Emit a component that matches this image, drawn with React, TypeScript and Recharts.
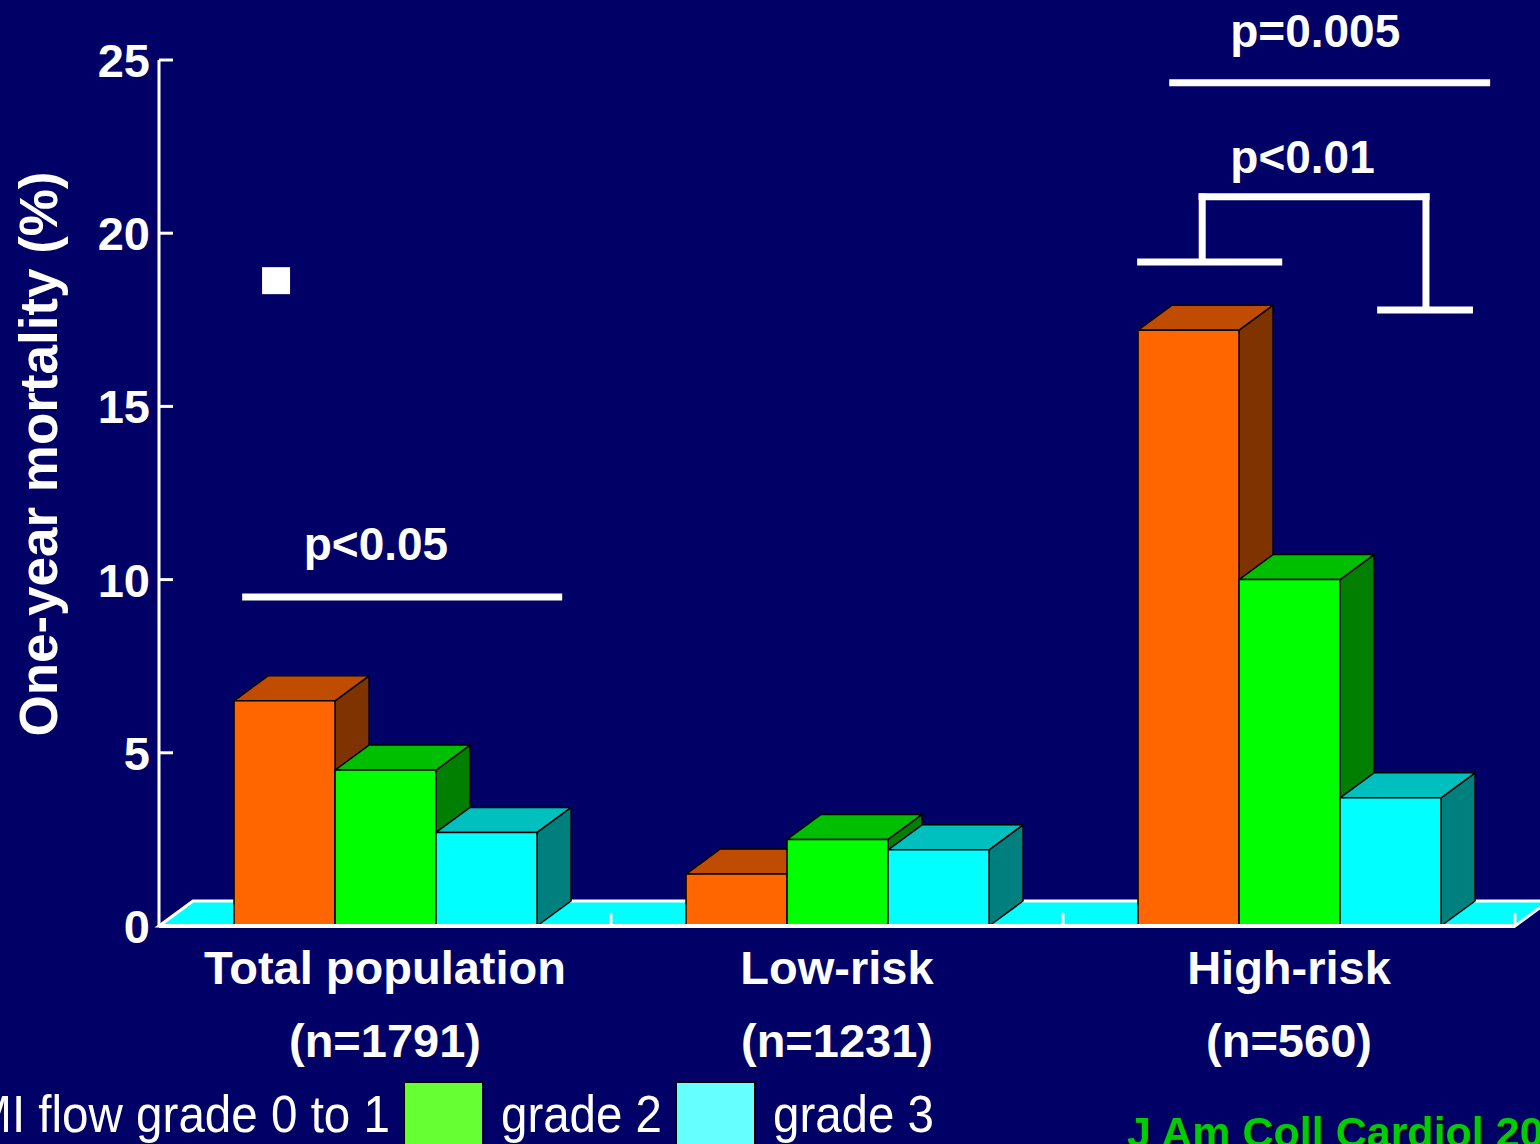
import React from 'react';
import {
  BarChart,
  Bar,
  XAxis,
  YAxis,
  ReferenceLine,
  ReferenceArea,
  ReferenceDot,
  Legend,
} from 'recharts';

// one-year mortality (%) by TIMI flow grade
const groups = ['Total population', 'Low-risk', 'High-risk'];
const groupSizes = ['(n=1791)', '(n=1231)', '(n=560)'];
const grade01 = [6.5, 1.5, 17.2];
const grade2 = [4.5, 2.5, 10.0];
const grade3 = [2.7, 2.2, 3.7];
const seriesNames = ['TIMI flow grade 0 to 1', 'grade 2', 'grade 3'];
const yTicks = [0, 5, 10, 15, 20, 25];

// significance marks: x in group units (0..3), y in %
const pLabels = [
  { text: 'p<0.05', x: 0.48, y: 10.57 },
  { text: 'p<0.01', x: 2.53, y: 21.74 },
  { text: 'p=0.005', x: 2.558, y: 25.38 },
];
const pSegments = [
  [0.184, 9.5, 0.892, 9.5],
  [2.235, 24.34, 2.945, 24.34],
  [2.164, 19.17, 2.485, 19.17],
  [2.308, 19.17, 2.308, 21.15],
  [2.3, 21.05, 2.811, 21.05],
  [2.803, 21.15, 2.803, 17.78],
  [2.695, 17.78, 2.907, 17.78],
];
const groupEdges = [1, 2, 3];
const marker = { x: 0.259, y: 18.63 };

const rows = groups.map((g, i) => ({
  group: g,
  mid: i + 0.5,
  g01: grade01[i],
  g2: grade2[i],
  g3: grade3[i],
}));

const NAVY = '#000066';
const FONT = '"Liberation Sans", Arial, Helvetica, sans-serif';
const DX = 34;
const DY = 25;

const palettes = [
  { front: '#ff6600', top: '#bf4c00', side: '#7f3300' },
  { front: '#00ff00', top: '#00bf00', side: '#007f00' },
  { front: '#00ffff', top: '#00bfbf', side: '#007f7f' },
];
const legendSwatches = ['#ff6600', '#66ff33', '#66ffff'];
const legendTextWidths = [460, 161, 161];

const makeBox = (pal: { front: string; top: string; side: string }) => (p: any) => {
  const { x, y, width: w, height: h } = p;
  if (x == null || h == null) return <g />;
  return (
    <g stroke="#000" strokeWidth={1.5} strokeLinejoin="round">
      <polygon
        points={`${x + w},${y} ${x + w + DX},${y - DY} ${x + w + DX},${y + h - DY} ${x + w},${y + h}`}
        fill={pal.side}
      />
      <polygon
        points={`${x},${y} ${x + DX},${y - DY} ${x + w + DX},${y - DY} ${x + w},${y}`}
        fill={pal.top}
      />
      <rect x={x} y={y} width={w} height={h} fill={pal.front} />
    </g>
  );
};

const Floor = (p: any) => {
  const { x, y, width: w, height: h } = p;
  const base = y + (h || 0);
  const pts = `${x},${base} ${x + DX},${base - DY} ${x + w + DX},${base - DY} ${x + w},${base}`;
  return <polygon points={pts} fill="#00ffff" stroke="#fff" strokeWidth={3} />;
};

const YTick = (p: any) => (
  <g>
    <line x1={p.x} x2={p.x + 14} y1={p.y} y2={p.y} stroke="#fff" strokeWidth={3} />
    <text
      x={p.x - 9}
      y={p.y}
      dy={17}
      textAnchor="end"
      fill="#fff"
      fontFamily={FONT}
      fontWeight="bold"
      fontSize={47}
    >
      {p.payload.value}
    </text>
  </g>
);

const GroupTick = (p: any) => (
  <g fill="#fff" fontFamily={FONT} fontWeight="bold" fontSize={47}>
    <text x={p.x} y={p.y + 58} textAnchor="middle">
      {p.payload.value}
    </text>
    <text x={p.x} y={p.y + 131} textAnchor="middle">
      {groupSizes[p.index]}
    </text>
  </g>
);

const YLabel = (p: any) => {
  const vb = p.viewBox;
  const cx = vb.x + 57;
  const cy = vb.y + vb.height / 2 - 39;
  return (
    <text
      x={cx}
      y={cy}
      transform={`rotate(-90 ${cx} ${cy})`}
      textAnchor="middle"
      fill="#fff"
      fontFamily={FONT}
      fontWeight="bold"
      fontSize={53}
      textLength={565}
      lengthAdjust="spacingAndGlyphs"
    >
      One-year mortality (%)
    </text>
  );
};

const LegendRow = (props: any) => {
  const items = props.payload || [];
  let cx = -167;
  const parts: React.ReactNode[] = [];
  items.forEach((it: any, i: number) => {
    parts.push(
      <rect key={`b${i}`} x={cx} y={22} width={79} height={80} fill={legendSwatches[i]} stroke="#000" strokeWidth={2} />
    );
    cx += 79 + 18;
    parts.push(
      <text
        key={`t${i}`}
        x={cx}
        y={72}
        fill="#fff"
        fontFamily={FONT}
        fontSize={52}
        textLength={legendTextWidths[i]}
        lengthAdjust="spacingAndGlyphs"
      >
        {it.value}
      </text>
    );
    cx += legendTextWidths[i] + 14;
  });
  return (
    <svg width={1540} height={84} style={{ display: 'block' }}>
      {parts}
      <g fontFamily={FONT} fontWeight="bold" fontSize={43}>
        <text x={1129} y={89} fill="#000">J Am Coll Cardiol 20</text>
        <text x={1127} y={87} fill="#00cc00">J Am Coll Cardiol 20</text>
      </g>
    </svg>
  );
};

export default function App() {
  return (
    <div
      style={{
        position: 'absolute',
        left: 0,
        top: 0,
        width: 1540,
        height: 1144,
        background: NAVY,
        overflow: 'hidden',
      }}
    >
      <BarChart
        width={1540}
        height={1144}
        data={rows}
        margin={{ top: 60, right: 25, bottom: 0, left: 0 }}
        barCategoryGap="16.6%"
        barGap={0}
      >
        <XAxis
          xAxisId="cat"
          dataKey="group"
          height={218}
          interval={0}
          axisLine={{ stroke: '#fff', strokeWidth: 4 }}
          tickLine={false}
          tickSize={0}
          tickMargin={0}
          tick={<GroupTick />}
        />
        <XAxis
          xAxisId="pos"
          dataKey="mid"
          type="number"
          domain={[0, 3]}
          allowDataOverflow
          padding={{ left: 0, right: 0 }}
          hide
        />
        <YAxis
          width={159}
          domain={[0, 25]}
          ticks={yTicks}
          interval={0}
          axisLine={{ stroke: '#fff', strokeWidth: 3 }}
          tickLine={false}
          tickSize={0}
          tickMargin={0}
          tick={<YTick />}
          label={<YLabel />}
        />
        <ReferenceArea xAxisId="pos" x1={0} x2={3} y1={0} y2={0} ifOverflow="visible" shape={<Floor />} />
        {groupEdges.map((e) => (
          <ReferenceLine
            key={`edge${e}`}
            xAxisId="pos"
            segment={[
              { x: e, y: 0 },
              { x: e, y: 0.38 },
            ]}
            stroke="#fff"
            strokeWidth={3}
            ifOverflow="visible"
          />
        ))}
        <Bar xAxisId="cat" dataKey="g01" name={seriesNames[0]} fill={palettes[0].front} shape={makeBox(palettes[0])} isAnimationActive={false} />
        <Bar xAxisId="cat" dataKey="g2" name={seriesNames[1]} fill={palettes[1].front} shape={makeBox(palettes[1])} isAnimationActive={false} />
        <Bar xAxisId="cat" dataKey="g3" name={seriesNames[2]} fill={palettes[2].front} shape={makeBox(palettes[2])} isAnimationActive={false} />
        {pSegments.map((s, i) => (
          <ReferenceLine
            key={`seg${i}`}
            xAxisId="pos"
            segment={[
              { x: s[0], y: s[1] },
              { x: s[2], y: s[3] },
            ]}
            stroke="#fff"
            strokeWidth={7}
            ifOverflow="visible"
          />
        ))}
        {pLabels.map((l) => (
          <ReferenceDot
            key={l.text}
            xAxisId="pos"
            x={l.x}
            y={l.y}
            ifOverflow="visible"
            shape={(p: any) => (
              <text
                x={p.cx}
                y={p.cy}
                textAnchor="middle"
                fill="#fff"
                fontFamily={FONT}
                fontWeight="bold"
                fontSize={46}
              >
                {l.text}
              </text>
            )}
          />
        ))}
        <ReferenceDot
          xAxisId="pos"
          x={marker.x}
          y={marker.y}
          ifOverflow="visible"
          shape={(p: any) => <rect x={p.cx - 14} y={p.cy - 13.5} width={28} height={27} fill="#fff" />}
        />
        <Legend
          verticalAlign="middle"
          layout="horizontal"
          wrapperStyle={{ left: 0, top: 1060, width: 1540, height: 84 }}
          content={<LegendRow />}
        />
      </BarChart>
    </div>
  );
}
